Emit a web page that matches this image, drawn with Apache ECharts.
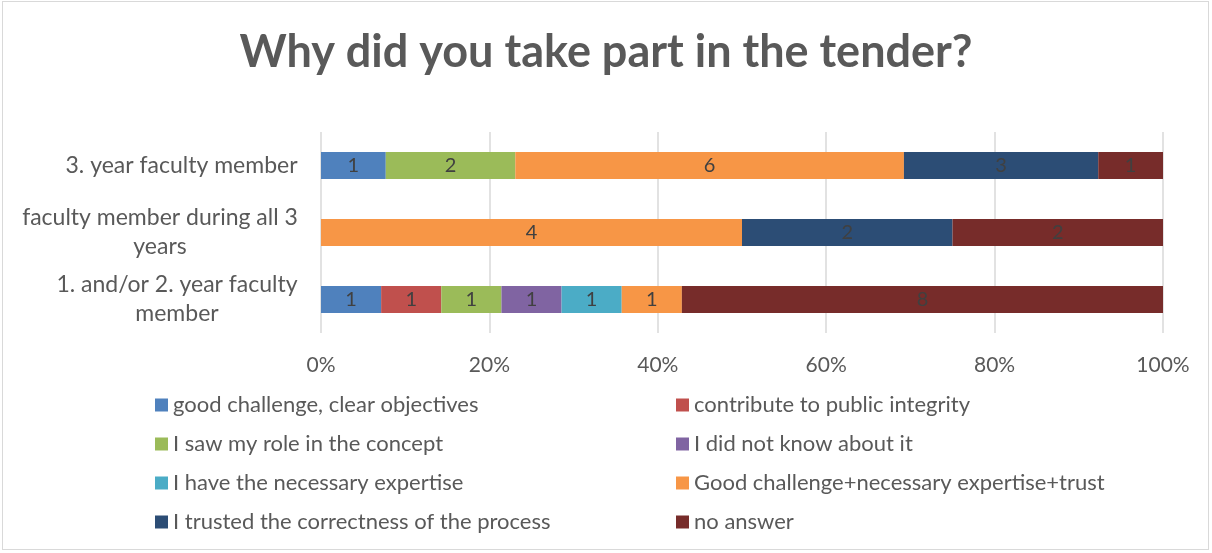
<!DOCTYPE html>
<html>
<head>
<meta charset="utf-8">
<script src="https://cdn.jsdelivr.net/npm/echarts@6/dist/echarts.min.js"></script>
<style>
  html, body { margin: 0; padding: 0; background: #fff; }
  #frame { position: absolute; left: 2px; top: 1px; width: 1207px; height: 549px; border: 1px solid #d9d9d9; box-sizing: border-box; }
  #chart { position: absolute; left: 0; top: 0; width: 1212px; height: 553px; }
</style>
</head>
<body>
<div id="frame"></div>
<div id="chart"></div>
<script>
// Respondent groups, bottom to top on the category axis
const categories = [
  '1. and/or 2. year faculty\nmember',
  'faculty member during all 3\nyears',
  '3. year faculty member'
];

// Answer counts per group (same order as categories)
const goodChallenge   = [1, 0, 1];
const publicIntegrity = [1, 0, 0];
const sawMyRole       = [1, 0, 2];
const didNotKnow      = [1, 0, 0];
const expertise       = [1, 0, 0];
const combined        = [1, 4, 6];
const trustedProcess  = [0, 2, 3];
const noAnswer        = [8, 2, 1];

const xTicks = [0, 20, 40, 60, 80, 100];

const seriesDefs = [
  { name: 'good challenge, clear objectives', data: goodChallenge, color: '#4F81BD' },
  { name: 'contribute to public integrity', data: publicIntegrity, color: '#C0504D' },
  { name: 'I saw my role in the concept', data: sawMyRole, color: '#9BBB59' },
  { name: 'I did not know about it', data: didNotKnow, color: '#8064A2' },
  { name: 'I have the necessary expertise', data: expertise, color: '#4BACC6' },
  { name: 'Good challenge+necessary expertise+trust', data: combined, color: '#F79646' },
  { name: 'I trusted the correctness of the process', data: trustedProcess, color: '#2C4D75' },
  { name: 'no answer', data: noAnswer, color: '#772C2A' }
];

const totals = categories.map((_, i) => seriesDefs.reduce((s, d) => s + d.data[i], 0));

const FONT = 'Lato';
const TEXT = '#595959';
const CAT_SIZE = 23;

// width of the longest line of a wrapped category name, so the lines can be centred
const measureCtx = document.createElement('canvas').getContext('2d');
measureCtx.font = CAT_SIZE + 'px ' + FONT;
function blockWidth(label) {
  return Math.ceil(Math.max.apply(null, label.split('\n').map(s => measureCtx.measureText(s).width)));
}

const series = seriesDefs.map(d => ({
  name: d.name,
  type: 'bar',
  stack: 'all',
  barWidth: 27,
  itemStyle: { color: d.color },
  data: d.data.map((v, i) => ({ value: v / totals[i] * 100, count: v })),
  label: {
    show: true,
    position: 'inside',
    color: '#404040',
    fontFamily: FONT,
    fontSize: 20,
    formatter: p => (p.data.count ? String(p.data.count) : '')
  }
}));

const chart = echarts.init(document.getElementById('chart'), null, { renderer: 'canvas' });

const legendCommon = {
  orient: 'vertical',
  top: 394,
  padding: 0,
  itemWidth: 13,
  itemHeight: 13,
  itemGap: 17,
  icon: 'rect',
  textStyle: { color: TEXT, fontFamily: FONT, fontSize: 22, lineHeight: 21 }
};

// one rich style per category, each as wide as its longest line
const catRich = {};
categories.forEach((c, i) => {
  catRich['c' + i] = { align: 'center', width: blockWidth(c), color: TEXT, fontFamily: FONT, fontSize: CAT_SIZE, lineHeight: 29 };
});

chart.setOption({
  animation: false,
  title: {
    text: 'Why did you take part in the tender?',
    left: 'center',
    top: 25,
    textStyle: { color: TEXT, fontFamily: FONT, fontWeight: 'bold', fontSize: 45 }
  },
  legend: [
    Object.assign({}, legendCommon, { left: 155, data: seriesDefs.filter((_, i) => i % 2 === 0).map(d => d.name) }),
    Object.assign({}, legendCommon, { left: 676, data: seriesDefs.filter((_, i) => i % 2 === 1).map(d => d.name) })
  ],
  grid: { left: 321, right: 49, top: 132, bottom: 220, containLabel: false },
  xAxis: {
    type: 'value',
    min: xTicks[0],
    max: xTicks[xTicks.length - 1],
    interval: xTicks[1] - xTicks[0],
    axisLine: { show: false },
    axisTick: { show: false },
    splitLine: { show: true, lineStyle: { color: '#d9d9d9', width: 1.5 } },
    axisLabel: {
      color: TEXT, fontFamily: FONT, fontSize: 21, margin: 22,
      formatter: v => v + '%'
    }
  },
  yAxis: {
    type: 'category',
    data: categories,
    axisLine: { show: false },
    axisTick: { show: false },
    axisLabel: {
      color: TEXT, fontFamily: FONT, fontSize: CAT_SIZE, margin: 23,
      align: 'right',
      overflow: 'none',
      formatter: v => {
        const key = 'c' + categories.indexOf(v);
        return v.split('\n').map(s => '{' + key + '|' + s + '}').join('\n');
      },
      rich: catRich
    }
  },
  series: series
});
</script>
</body>
</html>
